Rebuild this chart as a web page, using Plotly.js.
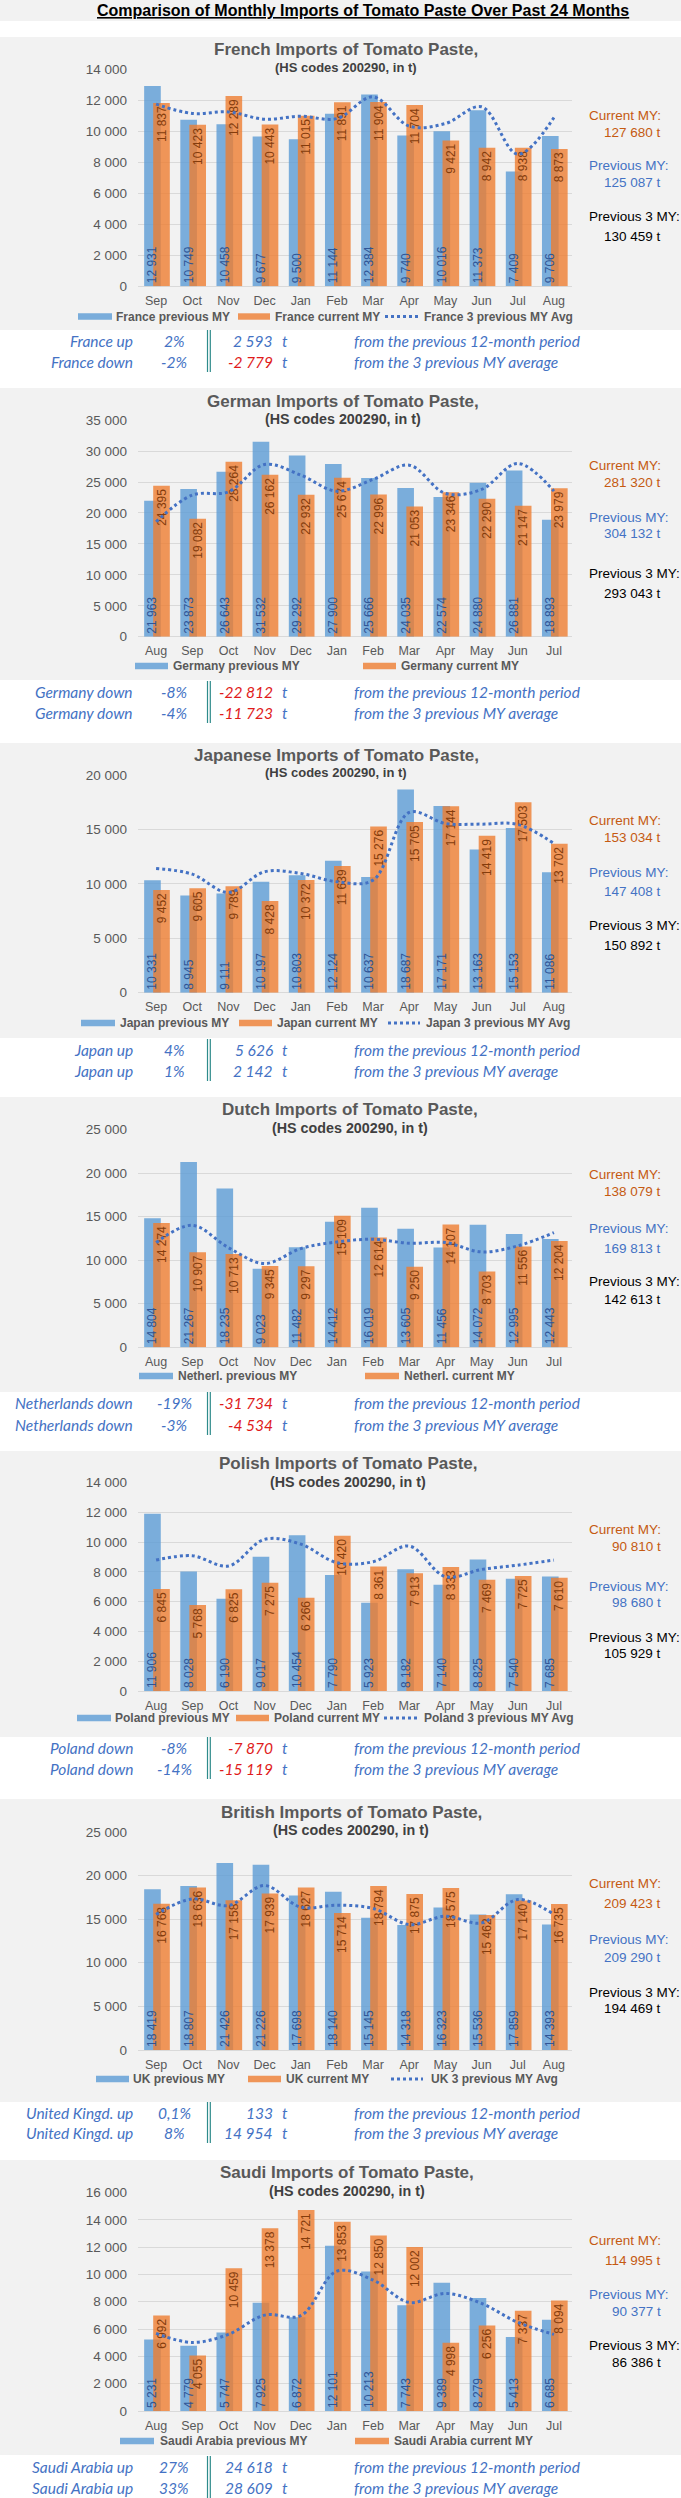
<!DOCTYPE html>
<html>
<head>
<meta charset="utf-8">
<script src="https://cdn.plot.ly/plotly-3.0.1.min.js"></script>
<style>
html,body{margin:0;padding:0;background:#ffffff;}
#chart{width:681px;height:2498px;}
</style>
</head>
<body>
<div id="chart"></div>
<script>
// ================= DATA =================
const mainTitle = 'Comparison of Monthly Imports of Tomato Paste Over Past 24 Months';
const subtitleText = '(HS codes 200290, in t)';

const franceMonths = ['Sep','Oct','Nov','Dec','Jan','Feb','Mar','Apr','May','Jun','Jul','Aug'];
const francePrev = [12931,10749,10458,9677,9500,11144,12384,9740,10016,11373,7409,9706];
const franceCurr = [11837,10423,12289,10443,11015,11891,11904,11704,9421,8942,8938,8873];
const franceAvg3 = [11760,11160,11260,10790,10980,10830,12230,10340,10510,11590,8530,10900];

const germanyMonths = ['Aug','Sep','Oct','Nov','Dec','Jan','Feb','Mar','Apr','May','Jun','Jul'];
const germanyPrev = [21963,23873,26643,31532,29292,27900,25666,24035,22574,24880,26881,18893];
const germanyCurr = [24395,19082,28264,26162,22932,25674,22996,21053,23346,22290,21147,23979];
const germanyAvg3 = [18580,22890,23420,27840,26120,23530,25420,27730,23160,23800,28000,23530];

const japanMonths = ['Sep','Oct','Nov','Dec','Jan','Feb','Mar','Apr','May','Jun','Jul','Aug'];
const japanPrev = [10331,8945,9111,10197,10803,12124,10637,18687,17171,13163,15153,11086];
const japanCurr = [9452,9605,9789,8428,10372,11639,15276,15705,17144,14419,17503,13702];
const japanAvg3 = [11420,10900,9220,11120,10960,10200,10350,16570,15560,15500,15470,13720];

const netherlandsMonths = ['Aug','Sep','Oct','Nov','Dec','Jan','Feb','Mar','Apr','May','Jun','Jul'];
const netherlandsPrev = [14804,21267,18235,9023,11482,14412,16019,13605,11456,14072,12995,12443];
const netherlandsCurr = [14274,10907,10713,9345,9297,15109,12614,9250,14107,8703,11556,12204];
const netherlandsAvg3 = [12020,14000,11440,9610,11330,12090,12400,11940,12020,10950,11640,13160];

const polandMonths = ['Aug','Sep','Oct','Nov','Dec','Jan','Feb','Mar','Apr','May','Jun','Jul'];
const polandPrev = [11906,8028,6190,9017,10454,7790,5923,8182,7140,8825,7540,7685];
const polandCurr = [6845,5768,6825,7275,6266,10420,8361,7913,8333,7469,7725,7610];
const polandAvg3 = [8790,9080,8390,10180,9860,8610,8680,9730,7670,8160,8450,8790];

const ukMonths = ['Sep','Oct','Nov','Dec','Jan','Feb','Mar','Apr','May','Jun','Jul','Aug'];
const ukPrev = [18419,18807,21426,21226,17698,18140,15145,14318,16323,15536,17859,14393];
const ukCurr = [16768,18636,17158,17939,18627,15714,18794,17875,18575,15462,17140,16735];
const ukAvg3 = [15530,17320,16560,18850,16370,16600,16220,14380,15340,14570,17250,15530];

const saudiMonths = ['Aug','Sep','Oct','Nov','Dec','Jan','Feb','Mar','Apr','May','Jun','Jul'];
const saudiPrev = [5231,4779,5747,7925,6872,12101,10213,7743,9389,8279,5413,6685];
const saudiCurr = [6992,4055,10459,13378,14721,13853,12850,12002,4998,6256,7337,8094];
const saudiAvg3 = [5680,5020,5610,7020,6980,10240,9590,7950,8610,7880,6490,5610];

const titleAdjectives = ['French','German','Japanese','Dutch','Polish','British','Saudi'];
const legendNames = ['France','Germany','Japan','Netherl.','Poland','UK','Saudi Arabia'];
const summaryNames = ['France','Germany','Japan','Netherlands','Poland','United Kingd.','Saudi Arabia'];
const prev3Totals = [130459,293043,150892,142613,105929,194469,86386];
const yMaxValues = [14000,35000,20000,25000,14000,25000,16000];
const yStepValues = [2000,5000,5000,5000,2000,5000,2000];
const showAvgInLegend = [true,false,true,false,true,true,false];
const descPrevPeriod = 'from the previous 12-month period';
const descPrev3 = 'from the 3 previous MY average';

const allMonths = [franceMonths,germanyMonths,japanMonths,netherlandsMonths,polandMonths,ukMonths,saudiMonths];
const allPrev = [francePrev,germanyPrev,japanPrev,netherlandsPrev,polandPrev,ukPrev,saudiPrev];
const allCurr = [franceCurr,germanyCurr,japanCurr,netherlandsCurr,polandCurr,ukCurr,saudiCurr];
const allAvg3 = [franceAvg3,germanyAvg3,japanAvg3,netherlandsAvg3,polandAvg3,ukAvg3,saudiAvg3];

// ================= LAYOUT CONFIG (pixels) =================
const W = 681, H = 2498;
const PLOT_X0 = 138, PLOT_X1 = 572;
const POS = [
 {bg:[37,330],   title:49,   sub:67,   top:69.3,   zero:286.3,  legend:316.5, right:[115,132,166,182,217,236],       rows:[341,362],   tx:346, subSize:13,   leg:[[78,112,115],[238,270,274],[385,418,423]]},
 {bg:[388,680],  title:401,  sub:419,  top:420,    zero:636.7,  legend:666,   right:[465,482,517,533,573,593],       rows:[692,713],   tx:343, subSize:14.3, leg:[[135,168,172],[363,396,400]]},
 {bg:[743,1038], title:756,  sub:773,  top:775,    zero:992.7,  legend:1023,  right:[820,837,872,891,925,945],       rows:[1050,1071], tx:336, subSize:13,   leg:[[81,115,119],[239,272,276],[388,420,425]]},
 {bg:[1097,1392],title:1109, sub:1128, top:1129.3, zero:1347.3, legend:1376,  right:[1174,1191,1228,1248,1282,1299], rows:[1403,1425], tx:350, subSize:14.3, leg:[[139,173,177],[365,399,403]]},
 {bg:[1451,1737],title:1463, sub:1482, top:1482.3, zero:1691,   legend:1718,  right:[1529,1546,1586,1602,1637,1653], rows:[1748,1769], tx:348, subSize:14.3, leg:[[77,111,114],[236,269,273],[384,417,423]]},
 {bg:[1799,2102],title:1812, sub:1830, top:1831.7, zero:2050,   legend:2079,  right:[1883,1903,1940,1957,1992,2008], rows:[2113,2133], tx:351, subSize:14.3, leg:[[96,129,132],[248,281,285],[391,423,430]]},
 {bg:[2160,2455],title:2172, sub:2191, top:2192.3, zero:2411,   legend:2441,  right:[2240,2260,2294,2311,2345,2362], rows:[2467,2488], tx:347, subSize:14.3, leg:[[120,154,159],[355,389,393]]}
];

const SANS = '"Liberation Sans", Arial, sans-serif';
const ITAL = 'Lato, "Open Sans", sans-serif';
const GRAY_BG = '#f2f2f2';
const BLUE_BAR = 'rgba(91,155,213,0.80)';
const ORANGE_BAR = 'rgba(237,125,49,0.80)';
const AVG_COLOR = '#4472C4';
const AXIS_TXT = '#595959';
const ROW_BLUE = '#4472C4';
const ROW_RED = '#E01B1B';

const px = x => x / W;
const py = y => 1 - y / H;
const sum = a => a.reduce((s, v) => s + v, 0);
function fmtInt(n) {
  const s = Math.abs(Math.round(n)).toString().replace(/\B(?=(\d{3})+(?!\d))/g, ' ');
  return (n < 0 ? '-' : '') + s;
}
function fmtPct(p) {
  if (Math.abs(p) < 1) return p.toFixed(1).replace('.', ',') + '%';
  return Math.round(p) + '%';
}
function ann(x, y, text, opts) {
  const base = {xref:'paper', yref:'paper', x:px(x), y:py(y), text:text, showarrow:false,
    xanchor:'center', yanchor:'middle', borderpad:0,
    font:{family:SANS, size:12, color:AXIS_TXT}};
  return Object.assign(base, opts || {});
}

const traces = [];
const shapes = [];
const annotations = [];
const layout = {
  width: W, height: H,
  margin: {l:0, r:0, t:0, b:0},
  paper_bgcolor: '#ffffff',
  plot_bgcolor: 'rgba(0,0,0,0)',
  separators: ', ',
  barmode: 'overlay',
  showlegend: false,
  hovermode: false,
  font: {family: SANS, color: AXIS_TXT}
};

// top title band
shapes.push({type:'rect', xref:'paper', yref:'paper', x0:0, x1:1, y0:py(21), y1:1, fillcolor:GRAY_BG, line:{width:0}, layer:'below'});
annotations.push(ann(363, 10.5, '<b><u>' + mainTitle + '</u></b>', {font:{family:SANS, size:16, color:'#000000'}}));

for (let i = 0; i < 7; i++) {
  const P = POS[i];
  const n = i === 0 ? '' : String(i + 1);
  const xa = 'x' + n, ya = 'y' + n;
  const months = allMonths[i], prev = allPrev[i], curr = allCurr[i], avg = allAvg3[i];

  // panel background
  shapes.push({type:'rect', xref:'paper', yref:'paper', x0:0, x1:1, y0:py(P.bg[1]), y1:py(P.bg[0]),
    fillcolor:GRAY_BG, line:{width:0}, layer:'below'});

  layout['xaxis' + n] = {
    domain:[px(PLOT_X0), px(PLOT_X1)], anchor:ya, type:'category',
    showgrid:false, showline:false, zeroline:false, ticks:'',
    tickfont:{family:SANS, size:12.5, color:AXIS_TXT}, ticklabelstandoff:5, fixedrange:true
  };
  layout['yaxis' + n] = {
    domain:[py(P.zero), py(P.top)], anchor:xa,
    range:[0, yMaxValues[i] * 1.0008], dtick:yStepValues[i], tick0:0,
    tickformat:',.0f', showgrid:true, gridcolor:'#d9d9d9', gridwidth:1,
    zeroline:true, zerolinecolor:'#d9d9d9', zerolinewidth:1, showline:false, ticks:'',
    tickfont:{family:SANS, size:13.5, color:AXIS_TXT}, ticklabelstandoff:10, fixedrange:true
  };

  const barCommon = {type:'bar', x:months, xaxis:xa, yaxis:ya, width:0.46, hoverinfo:'skip', cliponaxis:false};
  // previous MY bars
  traces.push(Object.assign({}, barCommon, {
    name: legendNames[i] + ' previous MY', y:prev, offset:-0.33,
    marker:{color:BLUE_BAR, line:{width:0}}
  }));
  // current MY bars (with labels at the top)
  traces.push(Object.assign({}, barCommon, {
    name: legendNames[i] + ' current MY', y:curr, offset:-0.08,
    marker:{color:ORANGE_BAR, line:{width:0}},
    texttemplate:'%{y:,.0f}', textposition:'inside', insidetextanchor:'end', textangle:-90,
    constraintext:'none', textfont:{family:SANS, size:12, color:'#843C0C'}
  }));
  // previous MY labels drawn above the overlapping bars
  traces.push(Object.assign({}, barCommon, {
    name: legendNames[i] + ' previous MY labels', y:prev, offset:-0.33,
    marker:{color:'rgba(0,0,0,0)', line:{width:0}},
    texttemplate:'%{y:,.0f}', textposition:'inside', insidetextanchor:'start', textangle:-90,
    constraintext:'none', textfont:{family:SANS, size:12, color:'#2F5597'}
  }));
  // 3 previous MY average (dotted, smoothed)
  traces.push({
    type:'scatter', mode:'lines', x:months, y:avg, xaxis:xa, yaxis:ya,
    name: legendNames[i] + ' 3 previous MY Avg', hoverinfo:'skip',
    line:{color:AVG_COLOR, width:3, dash:'3px,3px', shape:'spline', smoothing:1}
  });

  // chart title + subtitle
  annotations.push(ann(P.tx, P.title, '<b>' + titleAdjectives[i] + ' Imports of Tomato Paste,</b>',
    {font:{family:SANS, size:17, color:AXIS_TXT}}));
  annotations.push(ann(P.tx, P.sub, '<b>' + subtitleText + '</b>',
    {font:{family:SANS, size:P.subSize, color:'#404040'}, bgcolor:GRAY_BG}));

  // custom legend
  const legItems = [
    {kind:'rect', color:BLUE_BAR, text:legendNames[i] + ' previous MY'},
    {kind:'rect', color:ORANGE_BAR, text:legendNames[i] + ' current MY'}
  ];
  if (showAvgInLegend[i]) legItems.push({kind:'line', color:AVG_COLOR, text:legendNames[i] + ' 3 previous MY Avg'});
  legItems.forEach((it, k) => {
    const L = P.leg[k];
    if (it.kind === 'rect') {
      shapes.push({type:'rect', xref:'paper', yref:'paper', x0:px(L[0]), x1:px(L[1]),
        y0:py(P.legend + 3.2), y1:py(P.legend - 3.2), fillcolor:it.color, line:{width:0}});
    } else {
      shapes.push({type:'line', xref:'paper', yref:'paper', x0:px(L[0]), x1:px(L[1]),
        y0:py(P.legend), y1:py(P.legend), line:{color:it.color, width:3, dash:'3px,3px'}});
    }
    annotations.push(ann(L[2], P.legend, '<b>' + it.text + '</b>',
      {xanchor:'left', font:{family:SANS, size:12, color:AXIS_TXT}}));
  });

  // totals on the right
  const curTot = sum(curr), prevTot = sum(prev), p3Tot = prev3Totals[i];
  const R = P.right;
  const rightItems = [
    ['Current MY:', curTot, '#C55A11'],
    ['Previous MY:', prevTot, '#4472C4'],
    ['Previous 3 MY:', p3Tot, '#000000']
  ];
  rightItems.forEach((it, k) => {
    annotations.push(ann(588, R[2 * k], it[0], {xanchor:'left', font:{family:SANS, size:13.5, color:it[2]}}));
    annotations.push(ann(662, R[2 * k + 1], fmtInt(it[1]) + ' t', {xanchor:'right', font:{family:SANS, size:13.5, color:it[2]}}));
  });

  // summary rows
  const diffs = [curTot - prevTot, curTot - p3Tot];
  const bases = [prevTot, p3Tot];
  const descs = [descPrevPeriod, descPrev3];
  diffs.forEach((d, k) => {
    const y = P.rows[k];
    const rowFont = c => ({family:ITAL, size:15.5, color:c, style:'italic'});
    annotations.push(ann(134, y, '<i>' + summaryNames[i] + (d >= 0 ? ' up' : ' down') + '</i>', {xanchor:'right', font:rowFont(ROW_BLUE)}));
    annotations.push(ann(174, y, '<i>' + fmtPct(d / bases[k] * 100) + '</i>', {xanchor:'center', font:rowFont(ROW_BLUE)}));
    annotations.push(ann(274, y, '<i>' + fmtInt(d) + '</i>', {xanchor:'right', font:rowFont(d < 0 ? ROW_RED : ROW_BLUE)}));
    annotations.push(ann(285, y, '<i>t</i>', {xanchor:'center', font:rowFont(ROW_BLUE)}));
    annotations.push(ann(353, y, '<i>' + descs[k] + '</i>', {xanchor:'left', font:rowFont(ROW_BLUE)}));
  });
  // double separator line
  [207.5, 210.3].forEach(xv => {
    shapes.push({type:'line', xref:'paper', yref:'paper', x0:px(xv), x1:px(xv),
      y0:py(P.rows[0] - 11), y1:py(P.rows[1] + 10), line:{color:'#2E8B8B', width:1.2}});
  });
}

layout.shapes = shapes;
layout.annotations = annotations;

Plotly.newPlot('chart', traces, layout, {staticPlot:true, displayModeBar:false, responsive:false});
</script>
</body>
</html>
